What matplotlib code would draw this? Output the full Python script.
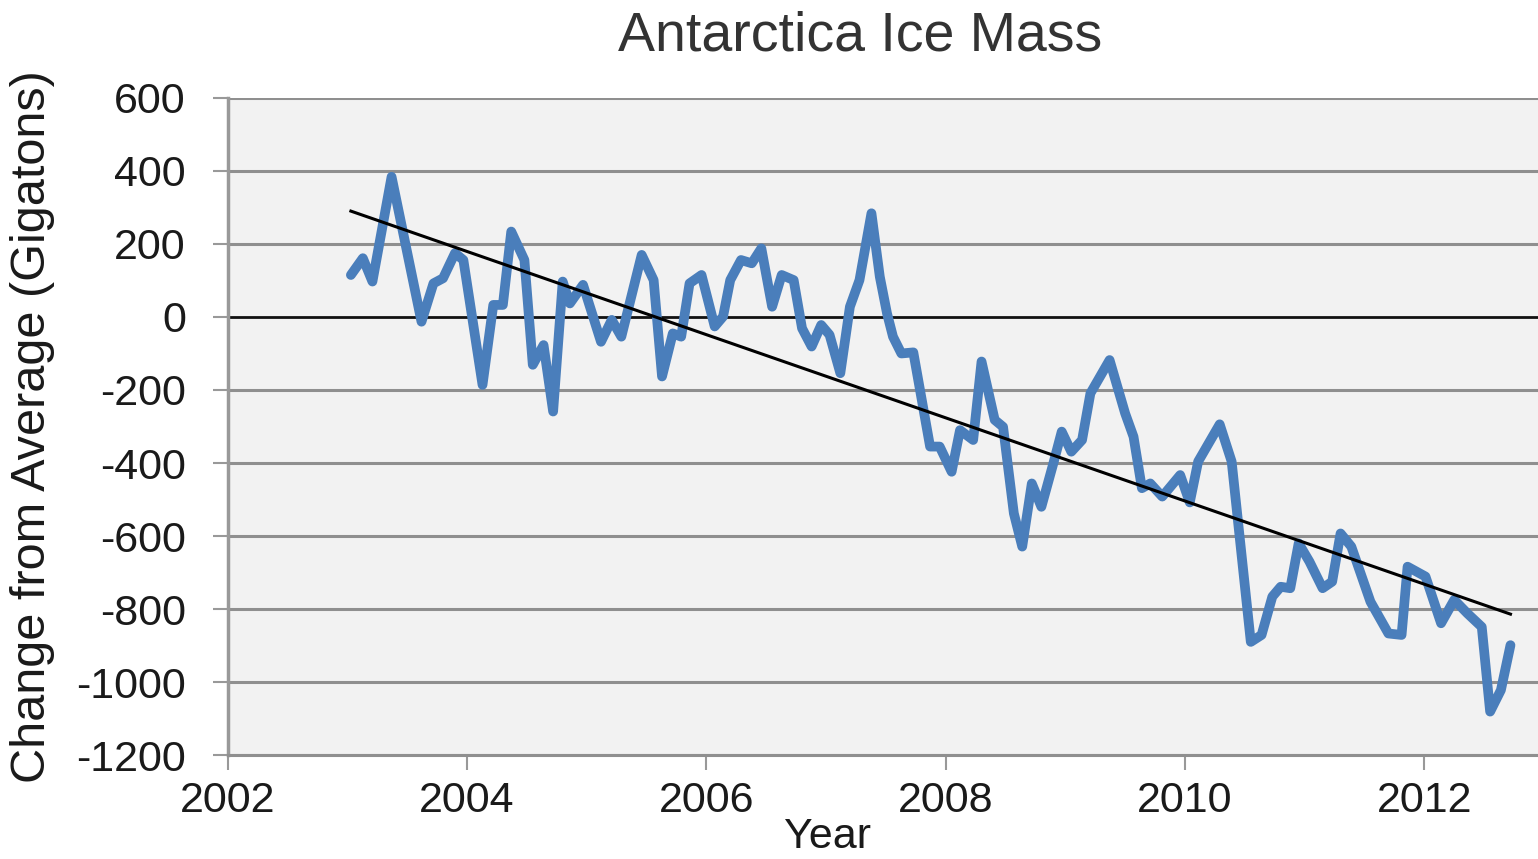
#!/usr/bin/python

import numpy as np
import matplotlib
matplotlib.use("Agg")
import matplotlib.pyplot as plt

plt.rcParams['font.family'] = ['Liberation Sans', 'DejaVu Sans']
plt.rcParams['axes.unicode_minus'] = False

# Antarctic ice mass change (decimal year, gigatons)
years = [2003.03, 2003.13, 2003.21, 2003.37, 2003.62, 2003.72, 2003.80, 2003.90, 2003.97,
         2004.13, 2004.22, 2004.30, 2004.37, 2004.48, 2004.55, 2004.64, 2004.72, 2004.80,
         2004.86, 2004.97, 2005.12, 2005.21, 2005.29, 2005.46, 2005.56, 2005.63, 2005.72,
         2005.79, 2005.86, 2005.96, 2006.07, 2006.14, 2006.20, 2006.29, 2006.38, 2006.46,
         2006.55, 2006.63, 2006.73, 2006.80, 2006.88, 2006.96, 2007.03, 2007.12, 2007.20,
         2007.28, 2007.38, 2007.45, 2007.51, 2007.56, 2007.63, 2007.73, 2007.87, 2007.95,
         2008.05, 2008.12, 2008.23, 2008.30, 2008.41, 2008.48, 2008.57, 2008.64, 2008.72,
         2008.80, 2008.90, 2008.97, 2009.05, 2009.14, 2009.21, 2009.37, 2009.50, 2009.57,
         2009.64, 2009.71, 2009.81, 2009.96, 2010.04, 2010.11, 2010.29, 2010.39, 2010.55,
         2010.64, 2010.73, 2010.80, 2010.88, 2010.95, 2011.04, 2011.15, 2011.23, 2011.30,
         2011.39, 2011.55, 2011.70, 2011.81, 2011.86, 2012.01, 2012.14, 2012.25, 2012.36,
         2012.48, 2012.55, 2012.64, 2012.72]
mass = [115, 161, 97, 384, -13, 92, 106, 175, 156,
        -186, 33, 33, 234, 156, -131, -77, -259, 97,
        37, 88, -68, -8, -54, 170, 101, -163, -45,
        -54, 92, 115, -26, 1, 101, 156, 147, 188,
        28, 115, 101, -31, -81, -22, -49, -154, 28,
        101, 284, 110, 10, -54, -100, -97, -355, -355,
        -424, -310, -337, -122, -282, -301, -538, -629, -456,
        -520, -401, -314, -369, -337, -209, -118, -264, -328,
        -469, -456, -492, -433, -508, -396, -294, -396, -890,
        -871, -766, -739, -743, -620, -670, -743, -725, -593,
        -629, -780, -867, -871, -684, -711, -839, -775, -812,
        -849, -1081, -1022, -899]

# linear trend line end points
trend_years = [2003.03, 2012.72]
trend_mass = [290, -814]

xticks = [2002, 2004, 2006, 2008, 2010, 2012]
yticks = list(range(-1200, 601, 200))


def plot_ice_mass():
    """ Line chart of ice mass with trend line """
    fig = plt.figure(figsize=(15.38, 8.59), dpi=100)
    ax = fig.add_axes([0.148, 0.121, 0.852, 0.765])
    ax.set_facecolor('#f2f2f2')

    # horizontal grid
    for y in yticks:
        if y == 0:
            continue
        ax.axhline(y, color='#8f8f8f', lw=2.2, zorder=1)
    ax.axhline(0, color='#111111', lw=2.0, zorder=2)

    ax.plot(years, mass, color='#4a7ebb', lw=7,
            solid_joinstyle='round', solid_capstyle='round', zorder=3)
    ax.plot(trend_years, trend_mass, color='black', lw=2.2, zorder=4)

    ax.set_xlim(2002, 2012.95)
    ax.set_ylim(-1200, 600)
    ax.set_xticks(xticks)
    ax.set_yticks(yticks)

    for s in ['top', 'right']:
        ax.spines[s].set_visible(False)
    ax.spines['left'].set_color('#999999')
    ax.spines['left'].set_linewidth(2.5)
    ax.spines['bottom'].set_color('#8f8f8f')
    ax.spines['bottom'].set_linewidth(2.2)

    ax.tick_params(axis='y', length=11, width=1.5, color='#999999',
                   pad=19, labelsize=31, labelcolor='#1a1a1a')
    ax.tick_params(axis='x', length=11, width=1.5, color='#999999',
                   pad=8, labelsize=31, labelcolor='#1a1a1a')

    ax.set_title('Antarctica Ice Mass', fontsize=40, color='#333333',
                 x=0.483, pad=34)
    ax.set_xlabel('Year', fontsize=31, color='#1a1a1a')
    ax.xaxis.set_label_coords(0.458, -0.095)
    ax.set_ylabel('Change from Average (Gigatons)', fontsize=35, color='#1a1a1a')
    ax.yaxis.set_label_coords(-0.132, 0.5)

    fig.savefig('out.png', dpi=100)


if __name__ == "__main__":
    plot_ice_mass()
